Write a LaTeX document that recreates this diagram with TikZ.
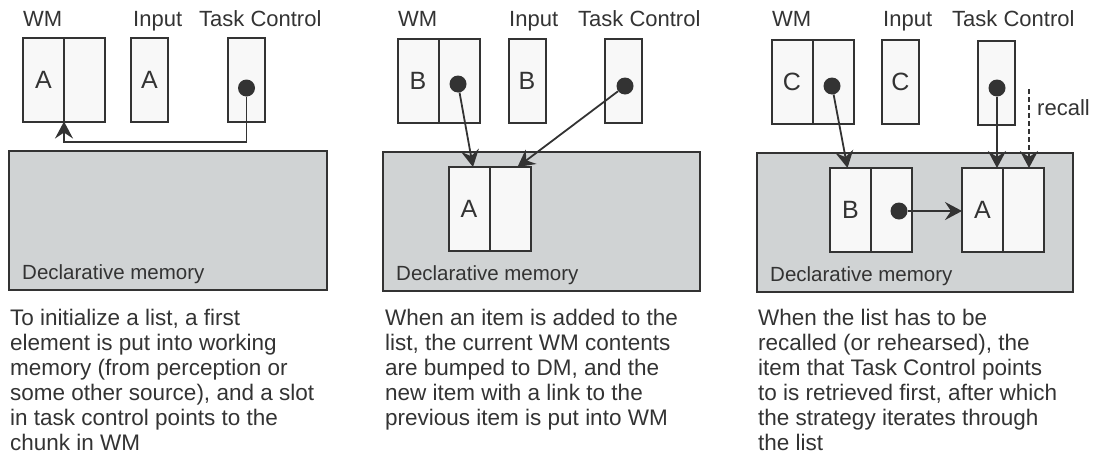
\documentclass[tikz,border=0pt]{standalone}
\usepackage{fontspec}
\setmainfont{Liberation Sans}
\usetikzlibrary{arrows.meta, positioning}
\definecolor{ink}{HTML}{333333}
\definecolor{dmgray}{HTML}{D0D3D4}
\definecolor{slotfill}{HTML}{F8F8F8}
\tikzset{
  slot/.style={
    draw=ink,
    fill=slotfill,
    line width=2pt,
    minimum width=41,
    minimum height=84,
    inner sep=0pt,
    outer sep=0pt,
    text=ink,
    font=\fontsize{25}{25}\selectfont,
  },
  thin slot/.style={slot, minimum width=37},
  memory/.style={draw=ink, fill=dmgray, line width=2pt, inner sep=0pt},
  pointer/.style={circle, fill=ink, inner sep=0pt, minimum size=17},
  link/.style={draw=ink, line width=1.8pt, -{Stealth[length=17pt, width=18pt, inset=6pt]}},
  module label/.style={anchor=base west, inner sep=0pt, text=ink, font=\fontsize{22}{22}\selectfont},
  dm label/.style={anchor=base west, inner sep=0pt, text=ink, font=\fontsize{20.5}{20.5}\selectfont},
  caption/.style={anchor=north west, inner sep=0pt, align=left, text=ink, font=\fontsize{22.5}{25}\selectfont},
}

\begin{document}
\begin{tikzpicture}[x=1pt, y=-1pt]
  \useasboundingbox (0,0) rectangle (1102,469);

  % --- step 1: initialise the list
  \node[memory, minimum width=318, minimum height=139] (dm1) at (168,220.5) {};
  \node[dm label] at ([xshift=14pt, yshift=12pt]dm1.south west) {Declarative memory};

  \node[module label] (wmlab1) at (23,26) {WM};
  \node[module label] (inlab1) at (133,26) {Input};
  \node[module label] (tclab1) at (199,26) {Task Control};

  \node[slot] (wm1l) at (43.5,79.5) {A};
  \node[slot, right=0pt of wm1l] (wm1r) {};
  \node[thin slot] (in1) at (149.5,79.5) {A};
  \node[thin slot] (tc1) at (246.5,80) {};
  \node[pointer] (p1) at (246.5,88) {};

  \coordinate (turn1) at (64,142);
  \draw[link] (p1) |- (turn1) -- (wm1l.south east);

  \node[caption] (cap1) at (10,308.5) {To initialize a list, a first\\
    element is put into working\\
    memory (from perception or\\
    some other source), and a slot\\
    in task control points to the\\
    chunk in WM};

  % --- step 2: a new item pushes the old one into DM
  \node[memory, minimum width=317, minimum height=139] (dm2) at (541.5,221.5) {};
  \node[dm label] at ([xshift=14pt, yshift=12pt]dm2.south west) {Declarative memory};

  \node[module label] (wmlab2) at (398,26) {WM};
  \node[module label] (inlab2) at (509,26) {Input};
  \node[module label] (tclab2) at (578,26) {Task Control};

  \node[slot] (wm2l) at (418,80.5) {B};
  \node[slot, right=0pt of wm2l] (wm2r) {};
  \node[pointer] (p2w) at (458,84) {};
  \node[thin slot] (in2) at (527,80.5) {B};
  \node[thin slot] (tc2) at (623.5,81) {};
  \node[pointer] (p2t) at (625,86) {};

  \node[slot] (dm2l) at (469,209) {A};
  \node[slot, right=0pt of dm2l] (dm2r) {};

  \draw[link] (p2w) -- ([xshift=4pt]dm2l.north);
  \draw[link] (p2t) -- ([xshift=-13pt]dm2r.north east);

  \node[caption] (cap2) at (385,309) {When an item is added to the\\
    list, the current WM contents\\
    are bumped to DM, and the\\
    new item with a link to the\\
    previous item is put into WM};

  % --- step 3: recall follows the chain
  \node[memory, minimum width=316, minimum height=139] (dm3) at (915,222.5) {};
  \node[dm label] at ([xshift=14pt, yshift=12pt]dm3.south west) {Declarative memory};

  \node[module label] (wmlab3) at (772,26) {WM};
  \node[module label] (inlab3) at (883,26) {Input};
  \node[module label] (tclab3) at (952,26) {Task Control};

  \node[slot] (wm3l) at (792,81.5) {C};
  \node[slot, right=0pt of wm3l] (wm3r) {};
  \node[pointer] (p3w) at (832,86) {};
  \node[thin slot] (in3) at (900.5,81.5) {C};
  \node[thin slot] (tc3) at (996.5,83) {};
  \node[pointer] (p3t) at (997,88) {};

  \node[slot] (dm3bl) at (850.5,210) {B};
  \node[slot, right=0pt of dm3bl] (dm3br) {};
  \node[pointer] (p3b) at (899,211) {};
  \node[slot] (dm3al) at (982.5,210) {A};
  \node[slot, right=0pt of dm3al] (dm3ar) {};

  \draw[link] (p3w) -- ([xshift=-3pt]dm3bl.north);
  \draw[link] (p3t) -- (p3t |- dm3al.north);
  \draw[link] (p3b) -- (p3b -| dm3al.west);

  \coordinate (rc) at (1029,89);
  \draw[link, dash pattern=on 5pt off 3pt] (rc) -- (rc |- dm3ar.north);
  \node[module label, anchor=west] (recall) at (1037,108) {recall};

  \node[caption] (cap3) at (758,309) {When the list has to be\\
    recalled (or rehearsed), the\\
    item that Task Control points\\
    to is retrieved first, after which\\
    the strategy iterates through\\
    the list};
\end{tikzpicture}
\end{document}
